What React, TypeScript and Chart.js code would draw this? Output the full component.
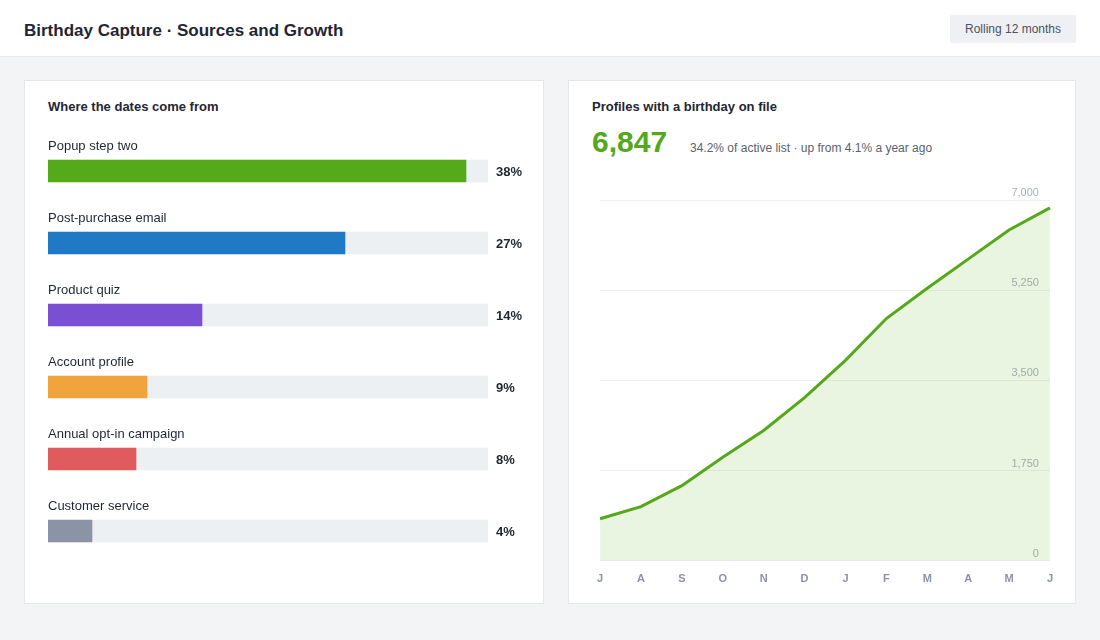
import React, { useEffect, useRef } from "react";
import { Chart, registerables } from "chart.js";

Chart.register(...registerables);

const FONT = '"Liberation Sans", Arial, Helvetica, sans-serif';

// Capture sources (share of captured birthdays, %)
const sourceLabels = [
  "Popup step two",
  "Post-purchase email",
  "Product quiz",
  "Account profile",
  "Annual opt-in campaign",
  "Customer service",
];
const sourceShares = [38, 27, 14, 9, 8, 4];
const sourceColors = ["#55aa19", "#1f79c4", "#7b4fd4", "#f2a43c", "#e05b5e", "#8b93a6"];
const sourceScaleMax = 40;

// Profiles with a birthday on file, rolling 12 months
const monthLabels = ["J", "A", "S", "O", "N", "D", "J", "F", "M", "A", "M", "J"];
const profileCounts = [817, 1050, 1458, 2009, 2528, 3164, 3889, 4700, 5289, 5853, 6417, 6847];
const countTicks = [0, 1750, 3500, 5250, 7000];

const TEXT_DARK = "#1f2633";

function SourcesChart() {
  const ref = useRef<HTMLCanvasElement | null>(null);
  useEffect(() => {
    if (!ref.current) return;
    const rowLabels = {
      id: "rowLabels",
      afterDatasetsDraw(chart: any) {
        const ctx = chart.ctx;
        const meta = chart.getDatasetMeta(0);
        const area = chart.chartArea;
        ctx.save();
        meta.data.forEach((bar: any, i: number) => {
          ctx.textBaseline = "middle";
          ctx.textAlign = "left";
          ctx.fillStyle = TEXT_DARK;
          ctx.font = `13px ${FONT}`;
          ctx.fillText(sourceLabels[i], area.left, bar.y - 25);
          ctx.font = `bold 13px ${FONT}`;
          ctx.fillText(`${sourceShares[i]}%`, area.right + 8, bar.y + 1);
        });
        ctx.restore();
      },
    };
    const chart = new Chart(ref.current, {
      type: "bar",
      data: {
        labels: sourceLabels,
        datasets: [
          {
            data: sourceShares,
            backgroundColor: sourceColors,
            barThickness: 22,
            grouped: false,
            borderWidth: 0,
          },
          {
            data: sourceLabels.map(() => sourceScaleMax),
            backgroundColor: "#edf0f3",
            barThickness: 22,
            grouped: false,
            borderWidth: 0,
          },
        ],
      },
      options: {
        indexAxis: "y",
        animation: false,
        responsive: true,
        maintainAspectRatio: false,
        layout: { padding: { left: 0, right: 42, top: 0, bottom: 0 } },
        plugins: { legend: { display: false }, tooltip: { enabled: false } },
        scales: {
          x: { display: false, min: 0, max: sourceScaleMax },
          y: { display: false },
        },
      },
      plugins: [rowLabels],
    });
    return () => chart.destroy();
  }, []);
  return (
    <div style={{ position: "absolute", left: 23, top: 54, width: 482, height: 432 }}>
      <canvas ref={ref} />
    </div>
  );
}

function GrowthChart() {
  const ref = useRef<HTMLCanvasElement | null>(null);
  useEffect(() => {
    if (!ref.current) return;
    const chart = new Chart(ref.current, {
      type: "line",
      data: {
        labels: monthLabels,
        datasets: [
          {
            data: profileCounts,
            borderColor: "#54a81a",
            borderWidth: 3,
            backgroundColor: "rgba(84,170,26,0.13)",
            fill: "origin",
            tension: 0,
            pointRadius: 0,
          },
        ],
      },
      options: {
        animation: false,
        responsive: true,
        maintainAspectRatio: false,
        layout: { padding: { left: 4, right: 6, top: 19, bottom: 0 } },
        plugins: { legend: { display: false }, tooltip: { enabled: false } },
        scales: {
          x: {
            offset: false,
            grid: { display: false, drawTicks: false },
            border: { display: false },
            ticks: {
              color: "#8b93a5",
              font: { family: FONT, size: 11, weight: "bold" },
              padding: 12,
              maxRotation: 0,
              autoSkip: false,
            },
          },
          y: {
            position: "right",
            min: 0,
            max: 7000,
            afterFit: (scale: any) => {
              scale.width = 0;
            },
            afterBuildTicks: (scale: any) => {
              scale.ticks = countTicks.map((v) => ({ value: v }));
            },
            grid: { color: "#eff1f3", lineWidth: 1, drawTicks: false },
            border: { display: false },
            ticks: {
              mirror: true,
              padding: -11,
              labelOffset: -7,
              color: "#a9afbb",
              font: { family: FONT, size: 11 },
              callback: (v: any) => Number(v).toLocaleString("en-US"),
            },
          },
        },
      },
    });
    return () => chart.destroy();
  }, []);
  return (
    <div style={{ position: "absolute", left: 16, top: 100, width: 480, height: 417 }}>
      <canvas ref={ref} />
    </div>
  );
}

const cardStyle: React.CSSProperties = {
  position: "absolute",
  top: 80,
  height: 524,
  background: "#ffffff",
  border: "1px solid #e4e7eb",
  boxSizing: "border-box",
};

const cardTitle: React.CSSProperties = {
  position: "absolute",
  left: 23,
  top: 18,
  fontSize: 13,
  fontWeight: "bold",
  color: TEXT_DARK,
  lineHeight: "16px",
  whiteSpace: "nowrap",
};

export default function App() {
  return (
    <div
      style={{
        position: "fixed",
        left: 0,
        top: 0,
        width: 1100,
        height: 640,
        background: "#f3f4f6",
        fontFamily: FONT,
        overflow: "hidden",
      }}
    >
      <div
        style={{
          position: "absolute",
          left: 0,
          top: 0,
          width: 1100,
          height: 57,
          background: "#ffffff",
          borderBottom: "1px solid #e8eaee",
          boxSizing: "border-box",
        }}
      >
        <div
          style={{
            position: "absolute",
            left: 24,
            top: 21,
            fontSize: 17,
            fontWeight: "bold",
            color: TEXT_DARK,
            lineHeight: "20px",
            whiteSpace: "nowrap",
          }}
        >
          Birthday Capture · Sources and Growth
        </div>
        <div
          style={{
            position: "absolute",
            left: 950,
            top: 15,
            width: 126,
            height: 28,
            background: "#eef0f3",
            borderRadius: 2,
            fontSize: 12,
            color: "#4b5362",
            lineHeight: "28px",
            textAlign: "center",
          }}
        >
          Rolling 12 months
        </div>
      </div>

      <div style={{ ...cardStyle, left: 24, width: 520 }}>
        <div style={cardTitle}>Where the dates come from</div>
        <SourcesChart />
      </div>

      <div style={{ ...cardStyle, left: 568, width: 508 }}>
        <div style={cardTitle}>Profiles with a birthday on file</div>
        <div
          style={{
            position: "absolute",
            left: 23,
            top: 43,
            fontSize: 30,
            fontWeight: "bold",
            color: "#54a81a",
            lineHeight: "36px",
            whiteSpace: "nowrap",
          }}
        >
          6,847
        </div>
        <div
          style={{
            position: "absolute",
            left: 121,
            top: 60,
            fontSize: 12,
            color: "#5b6270",
            lineHeight: "14px",
            whiteSpace: "nowrap",
          }}
        >
          34.2% of active list · up from 4.1% a year ago
        </div>
        <GrowthChart />
      </div>
    </div>
  );
}
